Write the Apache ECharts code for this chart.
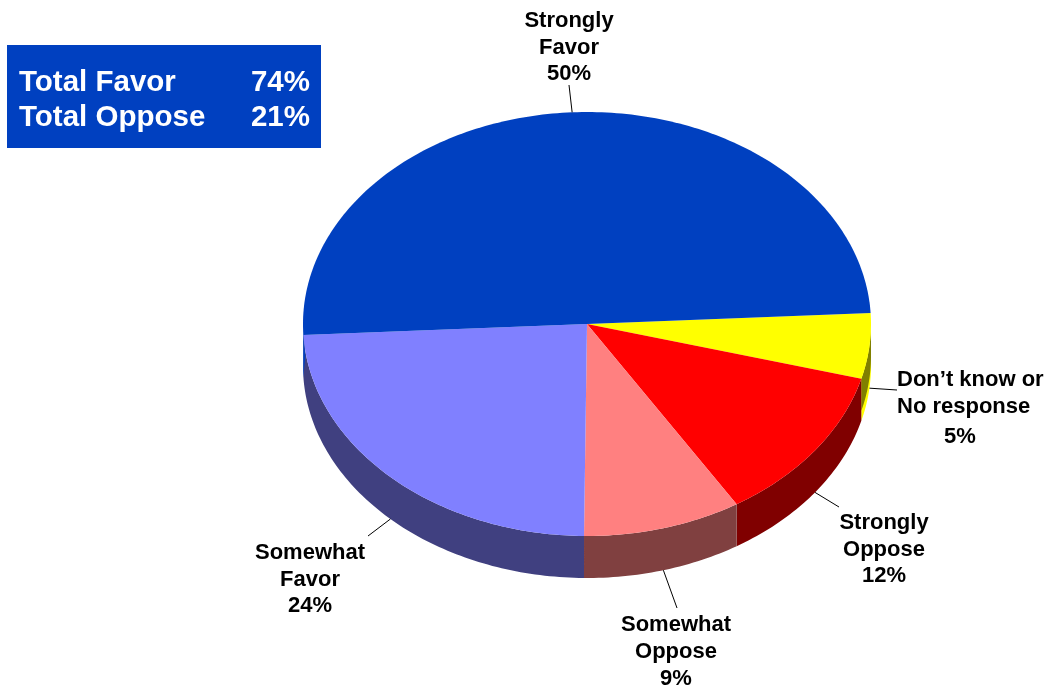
<!DOCTYPE html>
<html>
<head>
<meta charset="utf-8">
<title>Favor / Oppose</title>
<script src="https://cdn.jsdelivr.net/npm/echarts@6/dist/echarts.min.js"></script>
<style>
  html, body { margin: 0; padding: 0; background: #fff; }
  #chart { width: 1049px; height: 692px; }
</style>
</head>
<body>
<div id="chart"></div>
<script>
// drawn clockwise from just above 3 o'clock
var categories = ['Don’t know or\nNo response', 'Strongly\nOppose', 'Somewhat\nOppose', 'Somewhat\nFavor', 'Strongly\nFavor']
var values = [5, 12, 9, 24, 50]
var totalLabels = ['Total Favor', 'Total Oppose']
var totalValues = [74, 21]

var topColors = ['#FFFF00', '#FF0000', '#FF8080', '#8080FF', '#0040C0']
var wallColors = ['#FFFF00', '#800000', '#804040', '#404080', '#0040C0']

// pie layout, the tilted ellipse and how deep the side wall is
var cx = 587
var cy = 324
var rx = 284
var ry = 212
var depth = 42
var startAngle = -3

// where each label goes: name block, then the percent line
var labelLayout = [
  { x: 897, y: 380, align: 'left', px: 960, py: 437, lx: 897, ly: 390 },
  { x: 884, y: 523, align: 'center', px: 884, py: 576, lx: 839, ly: 507 },
  { x: 676, y: 625, align: 'center', px: 676, py: 679, lx: 677, ly: 608 },
  { x: 310, y: 553, align: 'center', px: 310, py: 606, lx: 368, ly: 536 },
  { x: 569, y: 21, align: 'center', px: 569, py: 74, lx: 569, ly: 85 }
]

var labelFont = 'bold 22px "Liberation Sans", Arial, sans-serif'
var totalFont = 'bold 29.5px "Liberation Sans", Arial, sans-serif'
var lineHeight = 26.5

var total = values.reduce(function (a, b) { return a + b }, 0)

function rim(angle, offset, scale) {
  var a = angle * Math.PI / 180
  var s = scale || 1
  return [cx + rx * s * Math.cos(a), cy + ry * s * Math.sin(a) + (offset || 0)]
}

function arcPoints(from, to, offset) {
  var pts = []
  var steps = Math.max(2, Math.ceil(Math.abs(to - from)))
  for (var i = 0; i <= steps; i++) {
    pts.push(rim(from + (to - from) * i / steps, offset))
  }
  return pts
}

// band between the top rim and the same rim pushed down by d
function wallShape(from, to, d, color) {
  return {
    type: 'polygon',
    shape: { points: arcPoints(from, to, 0).concat(arcPoints(to, from, d)) },
    style: { fill: color }
  }
}

function renderSlice(params, api) {
  var i = params.dataIndex
  var before = 0
  for (var k = 0; k < i; k++) before += values[k]
  var from = startAngle + before / total * 360
  var to = from + api.value(0) / total * 360
  var mid = (from + to) / 2
  var children = []

  // side wall, only the front half of the pie shows one
  var wallFrom = Math.max(from, 0)
  var wallTo = Math.min(to, 180)
  if (wallTo > wallFrom) {
    children.push(wallShape(wallFrom, wallTo, depth, wallColors[i]))
  }
  if (i === 0) {
    // yellow slice: olive wall with a bright strip left along its lower rim
    children.push(wallShape(wallFrom, wallTo, depth - 10, '#808000'))
  }
  if (i === values.length - 1) {
    // blue slice: thin bright sliver over the neighbour's wall at the left edge
    children.push({
      type: 'polygon',
      shape: { points: [rim(from, 0), rim(from, depth), rim(from, depth / 2, 0.993)] },
      style: { fill: wallColors[i] }
    })
  }

  // top face
  children.push({
    type: 'polygon',
    shape: { points: [[cx, cy]].concat(arcPoints(from, to, 0)) },
    style: { fill: topColors[i] }
  })

  // leader starts on the outer edge at the slice's middle angle
  var midIsFront = mid > 0 && mid < 180
  var anchor = rim(mid, midIsFront ? depth : 0)
  var lay = labelLayout[i]
  children.push({
    type: 'line',
    shape: { x1: anchor[0], y1: anchor[1], x2: lay.lx, y2: lay.ly },
    style: { stroke: '#000', lineWidth: 1 }
  })

  children.push({
    type: 'text',
    style: {
      text: categories[i],
      x: lay.x,
      y: lay.y - lineHeight / 2,
      align: lay.align,
      verticalAlign: 'top',
      font: labelFont,
      lineHeight: lineHeight,
      fill: '#000'
    }
  })
  children.push({
    type: 'text',
    style: {
      text: api.value(0) + '%',
      x: lay.px,
      y: lay.py,
      align: 'center',
      verticalAlign: 'middle',
      font: labelFont,
      fill: '#000'
    }
  })

  return { type: 'group', children: children }
}

var totalsBox = [{
  type: 'rect',
  shape: { x: 7, y: 45, width: 314, height: 103 },
  style: { fill: '#0040C0' }
}]
totalLabels.forEach(function (name, i) {
  var y = 83 + i * 35
  totalsBox.push({
    type: 'text',
    style: { text: name, x: 19, y: y, align: 'left', verticalAlign: 'middle', font: totalFont, fill: '#fff' }
  })
  totalsBox.push({
    type: 'text',
    style: { text: totalValues[i] + '%', x: 310, y: y, align: 'right', verticalAlign: 'middle', font: totalFont, fill: '#fff' }
  })
})

var chart = echarts.init(document.getElementById('chart'))
chart.setOption({
  backgroundColor: '#fff',
  animation: false,
  graphic: totalsBox,
  series: [{
    type: 'custom',
    coordinateSystem: 'none',
    renderItem: renderSlice,
    clip: false,
    data: values.map(function (v) { return [v] })
  }]
})
</script>
</body>
</html>
